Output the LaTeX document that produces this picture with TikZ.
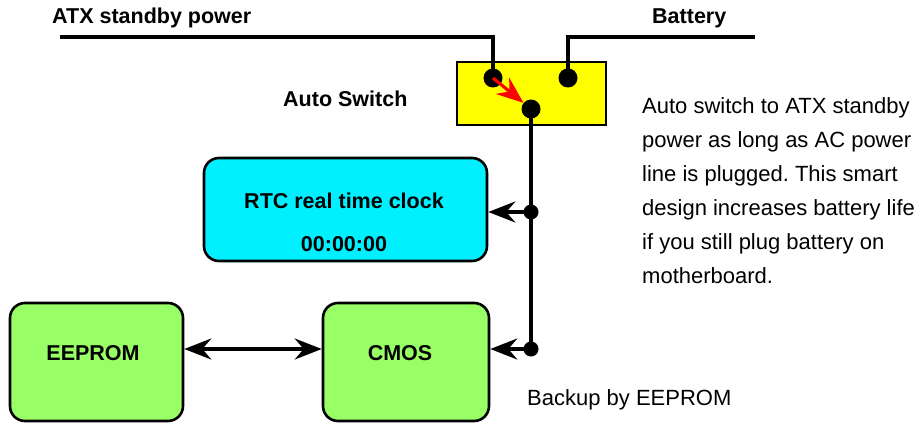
\documentclass[tikz,border=0pt]{standalone}
\usepackage{fontspec}
\setmainfont{Liberation Sans}
\usetikzlibrary{arrows.meta, positioning}
\definecolor{switchyellow}{RGB}{255, 255, 0}
\definecolor{rtccyan}{RGB}{0, 240, 255}
\definecolor{memgreen}{RGB}{153, 255, 102}
\definecolor{switchred}{RGB}{255, 0, 0}
\frenchspacing

\begin{document}
\begin{tikzpicture}[x=1pt, y=-1pt,
    >={Stealth[length=27pt, width=21pt, inset=9pt]},
    wire/.style={line width=3.2pt},
    dot/.style={circle, fill=black, inner sep=0pt, minimum size=15pt},
    bigdot/.style={circle, fill=black, inner sep=0pt, minimum size=19pt},
    block/.style={draw, line width=2.6pt, rounded corners=15pt, inner sep=0pt},
    lbl/.style={font=\fontsize{21.5}{26}\selectfont\bfseries, inner sep=0pt},
    txt/.style={font=\fontsize{22}{34}\selectfont, inner sep=0pt}]
  \useasboundingbox (0,0) rectangle (923,428);

  % switch and boxes
  \node[draw, line width=2pt, fill=switchyellow, minimum width=149pt, minimum height=63pt] (switch) at (531.5,93.5) {};
  \node[block, fill=rtccyan, minimum width=283pt, minimum height=103pt] (rtc) at (345.5,209.5) {};
  \node[block, fill=memgreen, minimum width=173pt, minimum height=118pt] (eeprom) at (96.5,362) {};
  \node[block, fill=memgreen, minimum width=166pt, minimum height=118pt] (cmos) at (406,362) {};

  % dots
  \node[bigdot] (swatx) at (493,78) {};
  \node[bigdot] (swbat) at (568,78) {};
  \node[bigdot] (swout) at (531,109) {};
  \node[dot] (rtcdot) at (531,212) {};
  \node[dot] (cmosdot) at (531,349) {};
  \coordinate (atxend) at (60,37);
  \coordinate (batend) at (755,37);

  % wires
  \draw[wire] (atxend) -- (atxend -| swatx) -- (swatx.center);
  \draw[wire] (batend) -- (batend -| swbat) -- (swbat.center);
  \draw[wire] (swout.center) -- (cmosdot.center);
  \draw[wire, ->] (rtcdot.center) -- (rtc.east |- rtcdot);
  \draw[wire, ->] (cmosdot.center) -- (cmos.east |- cmosdot);
  \draw[wire, <->] (eeprom.east |- cmosdot) -- (cmos.west |- cmosdot);
  \draw[wire, switchred, ->] (swatx.center) -- (swout);

  % labels
  \node[lbl, anchor=base west] (atxlbl) at (52,24) {ATX standby power};
  \node[lbl, anchor=base west] (batlbl) at (652,24) {Battery};
  \node[lbl, anchor=base west] (swlbl) at (283,106) {Auto Switch};
  \node[lbl, anchor=base] (rtctitle) at (344,208) {RTC real time clock};
  \node[lbl, anchor=base] (rtctime) at (344,251) {00:00:00};
  \node[lbl, anchor=base] (eepromlbl) at (93,360) {EEPROM};
  \node[lbl, anchor=base] (cmoslbl) at (400,360) {CMOS};
  \node[txt, anchor=base west] (backuplbl) at (527,405) {Backup by EEPROM};
  \node[txt, anchor=north west, align=left] (note) at (642,97)
    {Auto switch to ATX standby\\power as long as AC power\\line is plugged. This smart\\design increases battery life\\if you still plug battery on\\motherboard.};
\end{tikzpicture}
\end{document}
